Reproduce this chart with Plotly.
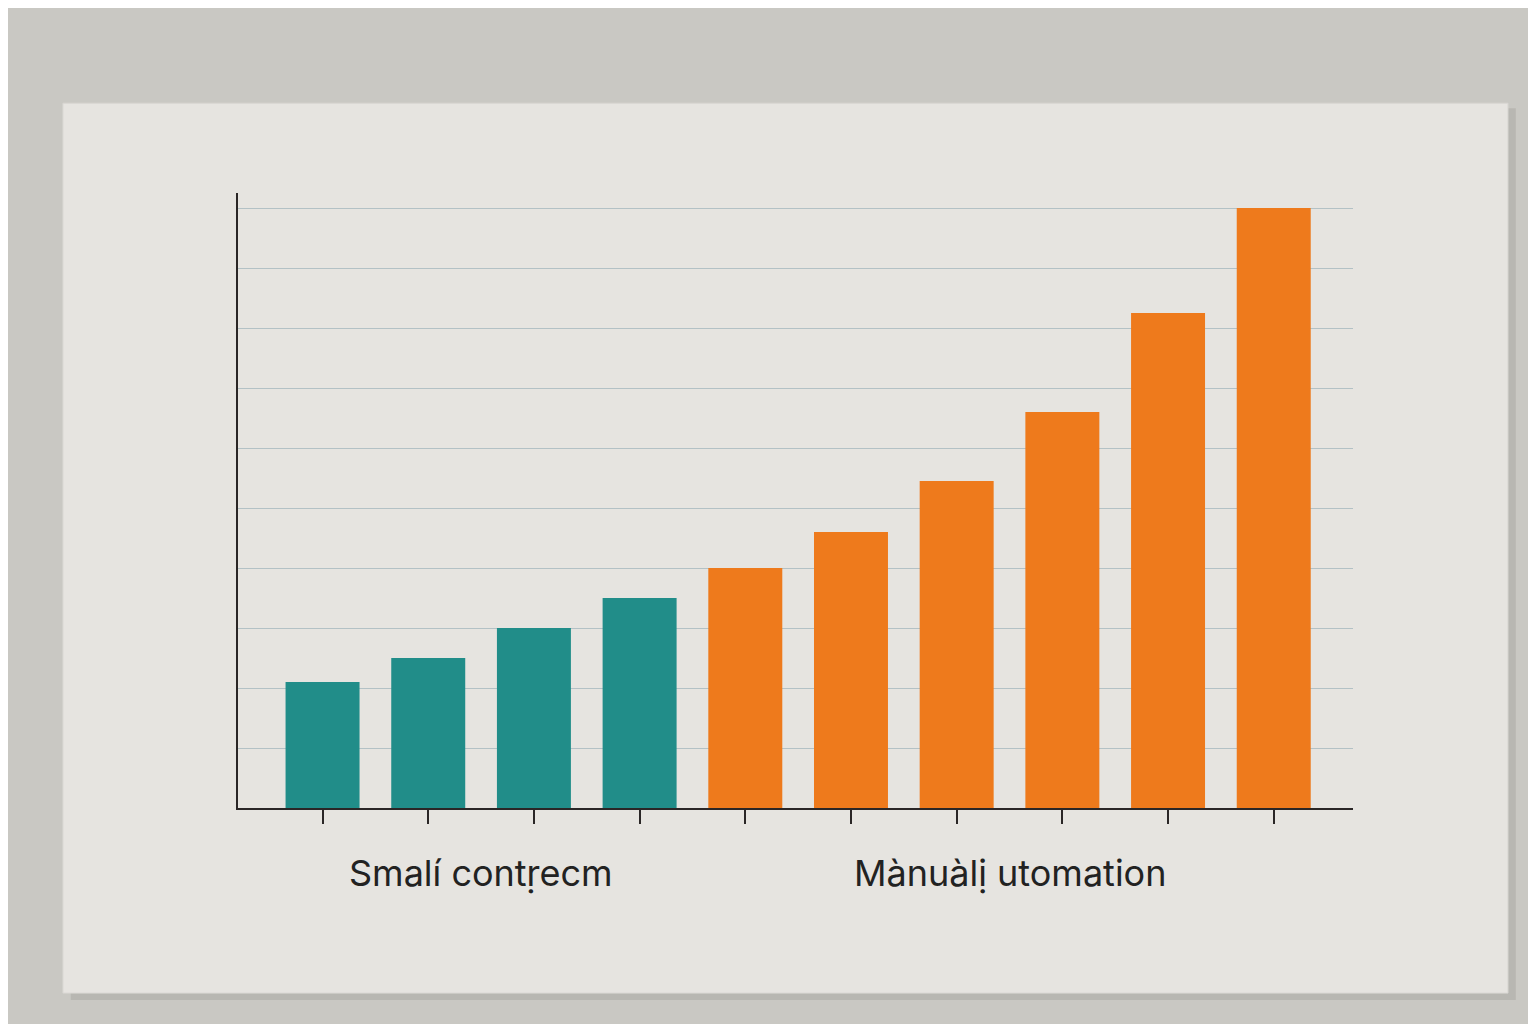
import plotly.graph_objects as go

# ---- data ----
categories = ["S1", "S2", "S3", "S4", "M1", "M2", "M3", "M4", "M5", "M6"]
small_cats = categories[:4]
small_values = [2.1, 2.5, 3.0, 3.5]
manual_cats = categories[4:]
manual_values = [4.0, 4.6, 5.45, 6.6, 8.25, 10.0]
group_labels = ["Smalí contṛecm", "Mànuàlị utomation"]

TEAL = "#218d89"
ORANGE = "#ee7a1c"
CARD = "#e6e4e0"
TABLE = "#c9c8c3"
INK = "#2a2626"
GRID = "#b3c1c5"

fig = go.Figure()
fig.add_trace(go.Bar(x=small_cats, y=small_values, marker_color=TEAL,
                     marker_line_width=0, name=group_labels[0]))
fig.add_trace(go.Bar(x=manual_cats, y=manual_values, marker_color=ORANGE,
                     marker_line_width=0, name=group_labels[1]))

fig.update_layout(
    width=1536, height=1024,
    margin=dict(l=230, r=191, t=185, b=224),
    paper_bgcolor=TABLE,
    plot_bgcolor=CARD,
    barmode="overlay",
    bargap=0.3,
    showlegend=False,
    font=dict(family="Inter, Open Sans, sans-serif", color="#222222"),
    shapes=[
        # card shadow
        dict(type="rect", xref="paper", yref="paper", layer="below",
             x0=-0.150, x1=1.146, y0=-0.312, y1=1.138,
             fillcolor="#b8b7b2", line_width=0),
        # card
        dict(type="rect", xref="paper", yref="paper", layer="below",
             x0=-0.157, x1=1.139, y0=-0.301, y1=1.146,
             fillcolor=CARD, line=dict(color="#d8d6d2", width=1)),
    ],
)

fig.update_xaxes(
    type="category",
    categoryorder="array", categoryarray=categories,
    range=[-0.8, 9.75],
    showline=True, linecolor=INK, linewidth=2,
    ticks="outside", ticklen=14, tickwidth=1.5, tickcolor=INK,
    showticklabels=False, showgrid=False, zeroline=False,
)
fig.update_yaxes(
    range=[0, 10.25],
    showline=True, linecolor=INK, linewidth=2,
    showgrid=True, gridcolor=GRID, gridwidth=1, dtick=1,
    ticks="", showticklabels=False, zeroline=False,
)

fig.add_annotation(x=1.5, xref="x", y=-0.105, yref="paper", text=group_labels[0],
                   showarrow=False, xanchor="center", yanchor="middle",
                   font=dict(size=36, color="#222222"))
fig.add_annotation(x=6.5, xref="x", y=-0.105, yref="paper", text=group_labels[1],
                   showarrow=False, xanchor="center", yanchor="middle",
                   font=dict(size=36, color="#222222"))

fig.write_html("out.html")
